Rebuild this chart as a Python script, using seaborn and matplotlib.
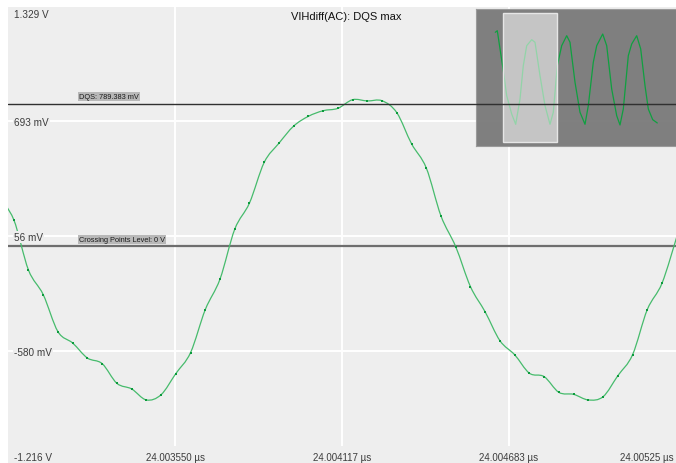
import matplotlib
matplotlib.use("Agg")
import matplotlib.pyplot as plt
import matplotlib.transforms as mtransforms
from matplotlib.patches import Rectangle, PathPatch
from matplotlib.path import Path
from matplotlib.lines import Line2D
import numpy as np
import seaborn as sns
import pandas as pd

# ---------------- data ----------------
time_us = [24.0029525, 24.0030025, 24.0030525, 24.0031025, 24.0031525, 24.0032025,
           24.0032525, 24.0033025, 24.0033525, 24.0034025, 24.0034525, 24.0035025,
           24.0035525, 24.0036025, 24.0036525, 24.0037025, 24.0037525, 24.0038025,
           24.0038525, 24.0039025, 24.0039525, 24.0040025, 24.0040525, 24.0041025,
           24.0041525, 24.0042025, 24.0042525, 24.0043025, 24.0043525, 24.0044025,
           24.0044525, 24.0045025, 24.0045525, 24.0046025, 24.0046525, 24.0047025,
           24.0047525, 24.0048025, 24.0048525, 24.0049025, 24.0049525, 24.0050025,
           24.0050525, 24.0051025, 24.0051525, 24.0052025, 24.0052525]
volts = [0.272, 0.147, -0.132, -0.268, -0.473, -0.536, -0.619, -0.650, -0.759, -0.790,
         -0.851, -0.822, -0.705, -0.589, -0.351, -0.182, 0.094, 0.239, 0.464, 0.570,
         0.665, 0.719, 0.750, 0.763, 0.811, 0.804, 0.805, 0.739, 0.567, 0.433,
         0.167, -0.003, -0.224, -0.364, -0.523, -0.601, -0.703, -0.722, -0.809, -0.820,
         -0.851, -0.833, -0.717, -0.601, -0.351, -0.205, 0.051]

# overview (inset) trace
overview_time_ns = [0.82, 0.905, 1.16, 1.305, 1.517, 1.687, 1.87, 2.01, 2.155, 2.367,
                    2.508, 2.72, 2.933, 3.145, 3.285, 3.455, 3.642, 3.855, 3.995, 4.208,
                    4.42, 4.633, 4.773, 4.985, 5.13, 5.385, 5.555, 5.767, 5.98, 6.12,
                    6.26, 6.473, 6.617, 6.83, 7.0, 7.183, 7.323, 7.51, 7.705]
overview_volts = [0.878, 0.908, 0.156, -0.314, -0.658, -0.852, -0.376, 0.250, 0.626, 0.739,
                  0.690, 0.062, -0.502, -0.852, -0.626, 0.250, 0.626, 0.814, 0.690, -0.062,
                  -0.626, -0.852, -0.502, 0.314, 0.626, 0.846, 0.626, -0.188, -0.690, -0.865,
                  -0.564, 0.438, 0.658, 0.814, 0.564, -0.126, -0.564, -0.765, -0.827]
overview_window_ns = [1.16, 3.43]

x_tick_values = [24.003550, 24.004117, 24.004683, 24.00525]
x_tick_labels = ["24.003550 µs", "24.004117 µs", "24.004683 µs", "24.00525 µs"]
y_tick_values = [1.329, 0.693, 0.056, -0.580, -1.216]
y_tick_labels = ["1.329 V", "693 mV", "56 mV", "-580 mV", "-1.216 V"]

dqs_level = 0.789383
dqs_label = "DQS: 789.383 mV"
cross_level = 0.0
cross_label = "Crossing Points Level: 0 V"
title = "VIHdiff(AC): DQS max"

# ---------------- style ----------------
sns.set_style("darkgrid", {"axes.facecolor": "#eeeeee", "grid.color": "white"})
plt.rcParams["font.family"] = ["Liberation Sans", "DejaVu Sans"]

fig = plt.figure(figsize=(6.76, 4.64), dpi=100)
fig.patch.set_facecolor("white")
ax = fig.add_axes([8 / 676, 0, 668 / 676, 456 / 464])

line_color = "#46bb6c"
df = pd.DataFrame({"t": time_us, "v": volts})
# sample markers
sns.lineplot(data=df, x="t", y="v", ax=ax, linestyle="", marker="s",
             markersize=2.0, markerfacecolor="#0b9a3c", markeredgecolor="#0b9a3c",
             markeredgewidth=0, zorder=4, sort=False)

# smooth trace through the samples (Catmull-Rom rendered as cubic Bezier segments)
P = np.column_stack([np.asarray(time_us), np.asarray(volts)])
Pe = np.vstack([P[0], P, P[-1]])
verts = [tuple(P[0])]
codes = [Path.MOVETO]
for i in range(1, len(Pe) - 2):
    p0, p1, p2, p3 = Pe[i - 1], Pe[i], Pe[i + 1], Pe[i + 2]
    c1 = p1 + (p2 - p0) / 6.0
    c2 = p2 - (p3 - p1) / 6.0
    verts += [tuple(c1), tuple(c2), tuple(p2)]
    codes += [Path.CURVE4] * 3
ax.add_patch(PathPatch(Path(verts, codes), facecolor="none", edgecolor=line_color,
                       linewidth=0.9, zorder=3))

ax.set_xlim(24.002983, 24.00525)
ax.set_ylim(-1.200, 1.324)
ax.set_xticks(x_tick_values[:3])
ax.set_yticks(y_tick_values[1:4])
ax.grid(True, color="white", linewidth=1.4)
ax.tick_params(length=0, labelleft=False, labelbottom=False)
ax.set_xlabel("")
ax.set_ylabel("")
for s in ax.spines.values():
    s.set_visible(False)

# reference lines
ax.axhline(dqs_level, color="#303030", linewidth=1.0, zorder=5)
ax.axhline(cross_level, color="#6e6e6e", linewidth=1.6, zorder=2)

blend = mtransforms.blended_transform_factory(ax.transAxes, ax.transData)
lab_x = (79 - 8) / 668
for lvl, txt in [(dqs_level, dqs_label), (cross_level, cross_label)]:
    ax.annotate(txt, xy=(lab_x, lvl), xycoords=blend, xytext=(0, 3.5),
                textcoords="offset pixels", ha="left", va="bottom",
                fontsize=5.3, color="#1a1a1a", zorder=6,
                bbox=dict(boxstyle="square,pad=0.15", fc="#b8b8b8", ec="none"))

# y tick labels (inside plot, with background boxes that hide the grid)
lx = (14 - 8) / 668
lab_color = "#3c3c3c"
tb = dict(boxstyle="square,pad=0.12", fc="#eeeeee", ec="none")
for val, txt in zip(y_tick_values, y_tick_labels):
    if val == y_tick_values[0]:
        ax.text(lx, 1 - 7 / 456, txt, transform=ax.transAxes, ha="left", va="center",
                fontsize=7.2, color=lab_color, zorder=6)
    elif val == y_tick_values[-1]:
        ax.text(lx, 6 / 456, txt, transform=ax.transAxes, ha="left", va="center",
                fontsize=7.2, color=lab_color, zorder=6)
    else:
        ax.annotate(txt, xy=(lx, val), xycoords=blend, xytext=(0, -1),
                    textcoords="offset pixels", ha="left", va="center",
                    fontsize=7.2, color=lab_color, bbox=tb, zorder=6)

# x tick labels (inside plot)
blend_x = mtransforms.blended_transform_factory(ax.transData, ax.transAxes)
tbx = dict(boxstyle="square,pad=0.6", fc="#eeeeee", ec="none")
for val, txt in zip(x_tick_values, x_tick_labels):
    if val == x_tick_values[-1]:
        ax.text((620 - 8) / 668, 6.3 / 456, txt, transform=ax.transAxes, ha="left",
                va="center", fontsize=7.0, color=lab_color, zorder=6)
    else:
        ax.text(val, 6.3 / 456, txt, transform=blend_x, ha="center", va="center",
                fontsize=7.0, color=lab_color, bbox=tbx, zorder=6)

ax.text((346 - 8) / 668, 1 - 9.3 / 456, title, transform=ax.transAxes, ha="center",
        va="center", fontsize=8, color="#111111")

# ---------------- inset overview ----------------
axi = fig.add_axes([476 / 676, (464 - 147) / 464, 200 / 676, 137 / 464])
axi.set_facecolor("#777777")
axi.patch.set_alpha(0.93)
odf = pd.DataFrame({"t": overview_time_ns, "v": overview_volts})
sns.lineplot(data=odf, x="t", y="v", ax=axi, color="#0fa040", linewidth=0.9,
             sort=False, zorder=2)
axi.set_xlim(0, 8.5)
axi.set_ylim(-1.26, 1.316)
axi.grid(False)
axi.set_xticks([])
axi.set_yticks([])
axi.set_xlabel("")
axi.set_ylabel("")
for s in axi.spines.values():
    s.set_color("#9a9a9a")
    s.set_linewidth(0.8)
axi.add_patch(Rectangle((overview_window_ns[0], -1.179),
                        overview_window_ns[1] - overview_window_ns[0], 1.241 + 1.179,
                        facecolor="white", alpha=0.55, edgecolor="none", zorder=3))
axi.add_patch(Rectangle((overview_window_ns[0], -1.179),
                        overview_window_ns[1] - overview_window_ns[0], 1.241 + 1.179,
                        facecolor="none", edgecolor="#e6e6e6", linewidth=1.0, zorder=4))
# DQS level line continues across the overview
blend_i = mtransforms.blended_transform_factory(axi.transAxes, ax.transData)
axi.add_line(Line2D([0, 1], [dqs_level, dqs_level], transform=blend_i,
                    color="#303030", linewidth=1.0, zorder=5))

fig.savefig("out.png", dpi=100, facecolor="white")
